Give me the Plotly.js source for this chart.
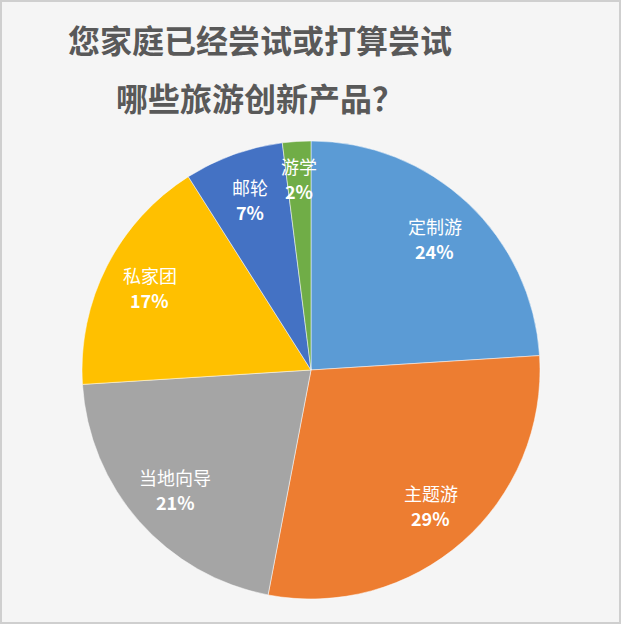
<!DOCTYPE html>
<html>
<head>
<meta charset="utf-8">
<script src="https://cdn.plot.ly/plotly-3.0.1.min.js"></script>
<style>
html,body{margin:0;padding:0;background:#f5f5f5;}
#chart{width:621px;height:624px;}
</style>
</head>
<body>
<div id="chart"></div>
<script>
// Data
const titleLine1 = '您家庭已经尝试或打算尝试';
const titleLine2 = '哪些旅游创新产品？';
const categories = ['定制游', '主题游', '当地向导', '私家团', '邮轮', '游学'];
const percents = [24, 29, 21, 17, 7, 2];
const colors = ['#5B9BD5', '#ED7D31', '#A5A5A5', '#FFC000', '#4472C4', '#70AD47'];

const W = 621, H = 624;
// pie geometry in pixels
const cx = 311, cy = 370, R = 229;
const labelFrac = 0.79;
const halfGap = 12.5;

const total = percents.reduce((a, b) => a + b, 0);
const annotations = [];
const labelFont = {family: '"Noto Sans CJK SC", "Noto Sans", sans-serif', size: 18, color: '#ffffff'};
let cum = 0;
percents.forEach((v, i) => {
  const mid = (cum + v / 2) / total * 2 * Math.PI;
  cum += v;
  const extra = v < 5 ? 0.05 : 0;
  const d = R * (labelFrac + extra);
  const px = cx + Math.sin(mid) * d;
  const py = cy - Math.cos(mid) * d;
  annotations.push({
    x: px / W, y: 1 - (py - halfGap) / H, xref: 'paper', yref: 'paper',
    text: categories[i],
    showarrow: false, xanchor: 'center', yanchor: 'middle', font: labelFont
  });
  annotations.push({
    x: px / W, y: 1 - (py + halfGap) / H, xref: 'paper', yref: 'paper',
    text: '<b>' + v + '%</b>',
    showarrow: false, xanchor: 'center', yanchor: 'middle', font: labelFont
  });
});
annotations.push({
  x: 260 / W, y: 1 - 97 / H, xref: 'paper', yref: 'paper',
  text: '<b>' + titleLine2 + '</b>', showarrow: false,
  xanchor: 'center', yanchor: 'middle',
  font: {family: '"Noto Sans CJK SC", sans-serif', size: 32, color: '#595959'}
});

const trace = {
  type: 'pie',
  labels: categories,
  values: percents,
  marker: {colors: colors, line: {color: '#ffffff', width: 0.5}},
  sort: false,
  direction: 'clockwise',
  rotation: 0,
  textinfo: 'none',
  hoverinfo: 'label+percent',
  domain: {x: [(cx - R) / W, (cx + R) / W], y: [1 - (cy + R) / H, 1 - (cy - R) / H]}
};

const layout = {
  width: W, height: H,
  margin: {l: 0, r: 0, t: 0, b: 0},
  paper_bgcolor: '#f5f5f5',
  showlegend: false,
  title: {
    text: '<b>' + titleLine1 + '</b>',
    x: 260 / W, xanchor: 'center', xref: 'paper',
    y: 1 - 42 / H, yanchor: 'middle', yref: 'container',
    font: {family: '"Noto Sans CJK SC", sans-serif', size: 32, color: '#595959'}
  },
  annotations: annotations,
  shapes: [{
    type: 'rect', xref: 'paper', yref: 'paper', x0: 0, x1: 1, y0: 0, y1: 1,
    line: {color: '#cfcfcf', width: 4}, fillcolor: 'rgba(0,0,0,0)'
  }]
};

Plotly.newPlot('chart', [trace], layout, {displayModeBar: false, staticPlot: true});
</script>
</body>
</html>
